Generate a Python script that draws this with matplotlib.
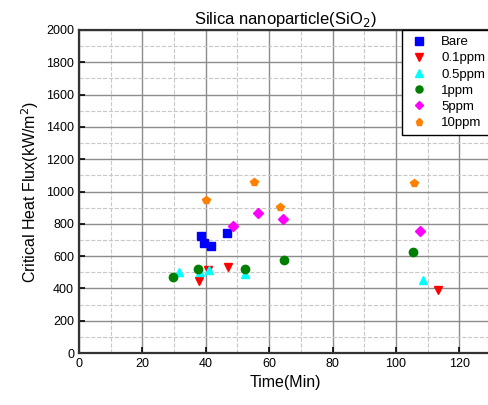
import matplotlib.pyplot as plt
from matplotlib.ticker import MultipleLocator

plt.rcParams["font.family"] = ["Liberation Sans", "DejaVu Sans"]

# Bare
bare_t = [38.5, 39.3, 41.7, 46.6]
bare_q = [726, 681, 664, 745]
# 0.1 ppm
p01_t = [37.8, 40.7, 47.0, 113.2]
p01_q = [445, 514, 532, 392]
# 0.5 ppm
p05_t = [31.7, 38.3, 40.9, 52.5, 108.7]
p05_q = [500, 503, 514, 490, 455]
# 1 ppm
p1_t = [29.6, 37.5, 52.5, 64.7, 105.3]
p1_q = [468, 522, 522, 576, 627]
# 5 ppm
p5_t = [48.5, 56.6, 64.5, 107.6]
p5_q = [786, 867, 830, 757]
# 10 ppm
p10_t = [40.1, 55.1, 63.4, 105.7]
p10_q = [949, 1057, 907, 1051]

series = [
    ("Bare", bare_t, bare_q, "#0000ff", "s"),
    ("0.1ppm", p01_t, p01_q, "#ff0000", "v"),
    ("0.5ppm", p05_t, p05_q, "#00ffff", "^"),
    ("1ppm", p1_t, p1_q, "#007f00", "o"),
    ("5ppm", p5_t, p5_q, "#ff00ff", "D"),
    ("10ppm", p10_t, p10_q, "#ff8000", "p"),
]

fig = plt.figure(figsize=(4.89, 4.05), dpi=100)
ax = fig.add_axes([79 / 489, 52 / 405, 412 / 489, 323 / 405])

for name, t, q, c, m in series:
    ms = 5.0 if m == "D" else 6.0
    ax.plot(t, q, linestyle="none", marker=m, color=c, markersize=ms,
            label=name, zorder=3)

ax.set_xlim(0, 130)
ax.set_ylim(0, 2000)
ax.xaxis.set_major_locator(MultipleLocator(20))
ax.xaxis.set_minor_locator(MultipleLocator(10))
ax.yaxis.set_major_locator(MultipleLocator(200))
ax.yaxis.set_minor_locator(MultipleLocator(100))
ax.grid(True, which="major", color="#8c8c8c", linewidth=1.0)
ax.grid(True, which="minor", color="#c8c8c8", linewidth=0.8, linestyle="--")
ax.set_axisbelow(True)

ax.tick_params(which="major", direction="in", length=4, width=1.2, labelsize=9)
ax.tick_params(which="minor", length=0)
for s in ax.spines.values():
    s.set_linewidth(1.6)
    s.set_color("#333333")

ax.set_xlabel("Time(Min)", fontsize=11.5)
ax.set_ylabel("Critical Heat Flux(kW/m$^2$)", fontsize=11.5)
ax.set_title("Silica nanoparticle(SiO$_2$)", fontsize=12, pad=4)

leg = ax.legend(loc="upper right", fontsize=9.5, frameon=True, fancybox=False,
                edgecolor="black", framealpha=1, borderpad=0.45,
                labelspacing=0.3, handletextpad=0.9, borderaxespad=0.0,
                handlelength=1.6, markerscale=0.85)
leg.get_frame().set_linewidth(1.0)

fig.savefig("out.png", dpi=100)
